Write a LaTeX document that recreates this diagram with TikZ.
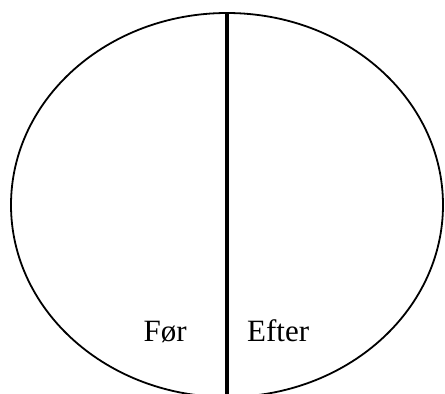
\documentclass[tikz,border=0pt]{standalone}
\usepackage{fontspec}
\setmainfont{Liberation Serif}

\begin{document}
\begin{tikzpicture}[x=1pt,y=-1pt,inner sep=0pt,
  label/.style={font=\fontsize{31}{36}\selectfont}]
  \useasboundingbox(0,0)rectangle(445,394);
  \begin{scope}
    \clip(0,0)rectangle(445,394);
    \draw[line width=1.8pt](227,205)ellipse(216 and 192);
  \end{scope}
  \coordinate(top)at(227,13);
  \coordinate(bottom)at(227,394);
  \draw[line width=3.2pt](top)--(bottom);
  \node[label,anchor=base east](foer)at(187,341){Før};
  \node[label,anchor=base west](efter)at(247,341){Efter};
\end{tikzpicture}
\end{document}
